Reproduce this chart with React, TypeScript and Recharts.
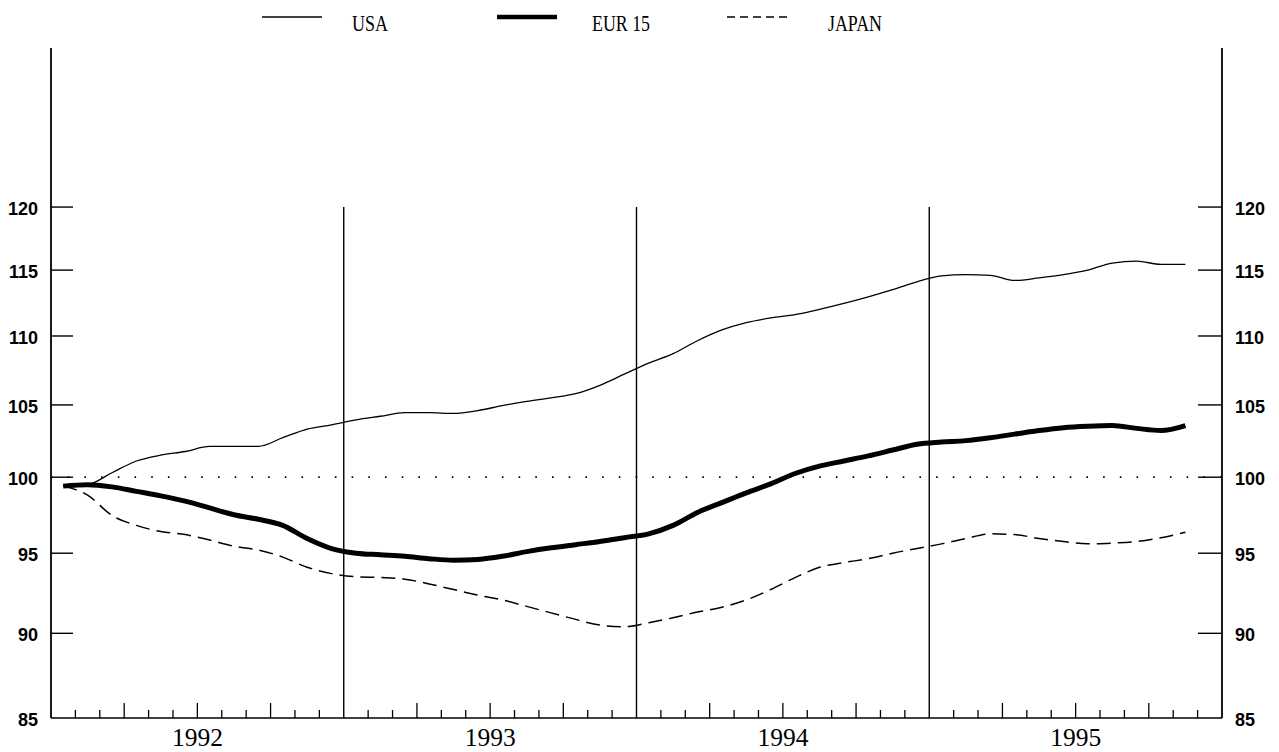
import React from "react";
import { LineChart, Line, XAxis, YAxis, ReferenceLine, Legend } from "recharts";

// monthly index values, Jan 1992 .. Nov 1995
const years = ["1992", "1993", "1994", "1995"];

const usa = [
  99.4, 99.5, 100.3, 101.1, 101.5, 101.75, 102.1, 102.1, 102.1, 102.7, 103.3, 103.6,
  103.95, 104.2, 104.45, 104.45, 104.4, 104.6, 104.95, 105.25, 105.5, 105.8, 106.4, 107.2,
  108.0, 108.7, 109.65, 110.45, 111.0, 111.35, 111.6, 112.0, 112.45, 112.95, 113.5, 114.1,
  114.55, 114.65, 114.6, 114.2, 114.4, 114.65, 115.0, 115.55, 115.7, 115.45, 115.45,
];

const eur15 = [
  99.4, 99.5, 99.35, 99.05, 98.75, 98.4, 97.95, 97.5, 97.2, 96.8, 95.95, 95.3,
  95.0, 94.9, 94.8, 94.65, 94.55, 94.6, 94.8, 95.1, 95.35, 95.55, 95.75, 96.0,
  96.25, 96.8, 97.65, 98.3, 98.95, 99.55, 100.25, 100.75, 101.1, 101.45, 101.85, 102.25,
  102.4, 102.5, 102.7, 102.95, 103.2, 103.4, 103.5, 103.55, 103.35, 103.2, 103.55,
];

const japan = [
  99.4, 98.8, 97.45, 96.8, 96.4, 96.2, 95.85, 95.45, 95.2, 94.75, 94.1, 93.7,
  93.5, 93.45, 93.35, 93.05, 92.7, 92.35, 92.05, 91.65, 91.25, 90.85, 90.5, 90.4,
  90.65, 90.95, 91.3, 91.6, 92.05, 92.7, 93.45, 94.1, 94.4, 94.65, 95.0, 95.3,
  95.6, 95.95, 96.25, 96.2, 95.95, 95.75, 95.6, 95.65, 95.75, 96.0, 96.35,
];

const yTicks = [85, 90, 95, 100, 105, 110, 115, 120];
const monthTicks = Array.from({ length: 49 }, (_, k) => k);

// each month sits in the middle of its slot on the time axis
const data = usa.map((v, i) => ({
  t: i + 0.5,
  usa: v,
  eur: eur15[i],
  japan: japan[i],
}));

const PLOT_LEFT = 51;
const PLOT_RIGHT = 1222;
const PLOT_BOTTOM = 718;

const sans = "'Liberation Sans', Arial, sans-serif";
const serif = "'Liberation Serif', 'Times New Roman', serif";

const LeftTick = (props: any) => {
  const { y, payload } = props;
  return (
    <g>
      {payload.value !== 85 && (
        <line x1={PLOT_LEFT} x2={PLOT_LEFT + 22} y1={y} y2={y} stroke="#000" strokeWidth={1.4} />
      )}
      <text x={38} y={y} dy={8} textAnchor="end" fontFamily={sans} fontWeight="bold" fontSize={18} fill="#000">
        {payload.value}
      </text>
    </g>
  );
};

const RightTick = (props: any) => {
  const { y, payload } = props;
  return (
    <g>
      {payload.value !== 85 && (
        <line x1={PLOT_RIGHT} x2={PLOT_RIGHT - 24} y1={y} y2={y} stroke="#000" strokeWidth={1.4} />
      )}
      <text x={1235} y={y} dy={8} textAnchor="start" fontFamily={sans} fontWeight="bold" fontSize={18} fill="#000">
        {payload.value}
      </text>
    </g>
  );
};

const MonthTick = (props: any) => {
  const { payload } = props;
  const k = payload.value as number;
  const x = payload.coordinate;
  if (k === 0 || k === 48) return <g />;
  const isYearEnd = k % 12 === 0;
  const len = k % 3 === 0 ? 15 : 8;
  return (
    <g>
      {!isYearEnd && (
        <line x1={x} x2={x} y1={PLOT_BOTTOM} y2={PLOT_BOTTOM - len} stroke="#000" strokeWidth={1.3} />
      )}
      {k % 12 === 6 && (
        <text
          x={x}
          y={PLOT_BOTTOM + 28}
          textAnchor="middle"
          fontFamily={serif}
          fontSize={26}
          textLength={51}
          lengthAdjust="spacingAndGlyphs"
          fill="#000"
        >
          {years[(k - 6) / 12]}
        </text>
      )}
    </g>
  );
};

const legendItems = [
  { name: "USA", x: 262, textX: 352, width: 36, stroke: 1.3, dash: undefined },
  { name: "EUR 15", x: 497, textX: 592, width: 58, stroke: 4.5, dash: undefined },
  { name: "JAPAN", x: 727, textX: 828, width: 54, stroke: 1.5, dash: "8 5" },
];

const TopLegend = () => (
  <svg width={1279} height={45}>
    {legendItems.map((it) => (
      <g key={it.name}>
        <line
          x1={it.x}
          x2={it.x + 60}
          y1={17}
          y2={17}
          stroke="#000"
          strokeWidth={it.stroke}
          strokeDasharray={it.dash}
        />
        <text
          x={it.textX}
          y={31}
          fontFamily={serif}
          fontSize={23}
          textLength={it.width}
          lengthAdjust="spacingAndGlyphs"
          fill="#000"
        >
          {it.name}
        </text>
      </g>
    ))}
  </svg>
);

const App = () => {
  return (
    <div style={{ position: "absolute", left: 0, top: 0, background: "#fff" }}>
      <LineChart width={1279} height={752} data={data} margin={{ top: 48, right: 0, bottom: 0, left: 0 }}>
        <XAxis
          dataKey="t"
          type="number"
          domain={[0, 48]}
          ticks={monthTicks}
          interval={0}
          height={34}
          allowDataOverflow
          tickLine={false}
          axisLine={{ stroke: "#000", strokeWidth: 1.6 }}
          tick={(p: any) => <MonthTick {...p} />}
        />
        <YAxis
          yAxisId="l"
          orientation="left"
          width={PLOT_LEFT}
          scale="log"
          domain={[85, 133.6]}
          ticks={yTicks}
          interval={0}
          allowDataOverflow
          tickLine={false}
          axisLine={{ stroke: "#000", strokeWidth: 1.8 }}
          tick={(p: any) => <LeftTick {...p} />}
        />
        <YAxis
          yAxisId="r"
          orientation="right"
          width={1279 - PLOT_RIGHT}
          scale="log"
          domain={[85, 133.6]}
          ticks={yTicks}
          interval={0}
          allowDataOverflow
          tickLine={false}
          axisLine={{ stroke: "#000", strokeWidth: 1.8 }}
          tick={(p: any) => <RightTick {...p} />}
        />
        <ReferenceLine yAxisId="l" y={100} stroke="#000" strokeWidth={1.8} strokeDasharray="1.6 15.1" />
        {[12, 24, 36].map((m) => (
          <ReferenceLine
            key={m}
            yAxisId="l"
            segment={[
              { x: m, y: 85 },
              { x: m, y: 120 },
            ]}
            stroke="#000"
            strokeWidth={1.4}
          />
        ))}
        <Line yAxisId="l" dataKey="usa" type="monotone" stroke="#000" strokeWidth={1.3} dot={false} isAnimationActive={false} />
        <Line
          yAxisId="l"
          dataKey="japan"
          type="monotone"
          stroke="#000"
          strokeWidth={1.5}
          strokeDasharray="14 7"
          dot={false}
          isAnimationActive={false}
        />
        <Line yAxisId="l" dataKey="eur" type="monotone" stroke="#000" strokeWidth={5} dot={false} isAnimationActive={false} />
        {/* horizontal + middle + center keeps the legend out of the plot offset */}
        <Legend
          layout="horizontal"
          verticalAlign="middle"
          align="center"
          wrapperStyle={{ top: 0, left: 0, width: 1279, height: 45 }}
          content={() => <TopLegend />}
        />
      </LineChart>
    </div>
  );
};

export default App;
